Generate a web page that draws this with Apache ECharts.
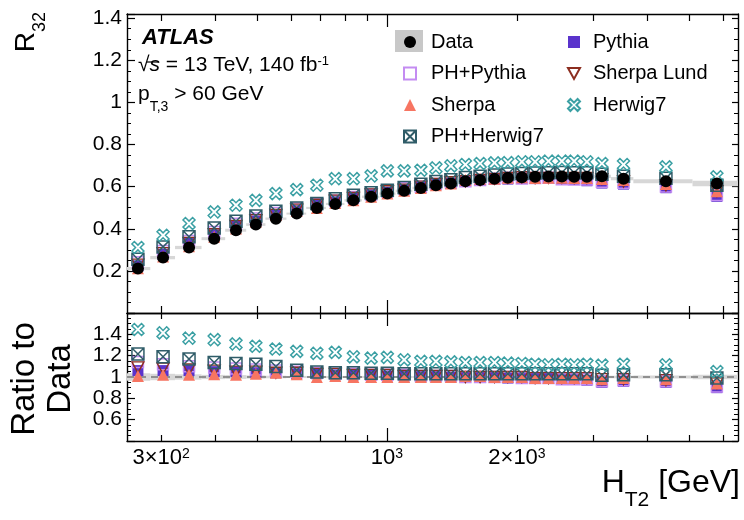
<!DOCTYPE html>
<html><head><meta charset="utf-8">
<script src="https://cdn.jsdelivr.net/npm/echarts@6/dist/echarts.min.js"></script>
<style>html,body{margin:0;padding:0;background:#fff}#c{width:744px;height:520px}</style>
</head><body><div id="c"></div>
<script>
// ---------------- data ----------------
const htCenters = [265,303,348,398,447,497,553,618,688,759,836,919,1002,1096,1198,1298,1406,1519,1643,1774,1905,2053,2203,2366,2541,2713,2904,3146,3530,4426,5808];
const binEdges = [250,283,323,372,422,472,523,585,650,722,797,875,960,1047,1145,1248,1350,1460,1580,1706,1840,1975,2130,2285,2450,2625,2805,3000,3300,3720,5100,6500];
const r32Data = [0.211,0.263,0.311,0.353,0.393,0.420,0.448,0.472,0.499,0.518,0.535,0.552,0.567,0.580,0.594,0.607,0.615,0.626,0.632,0.637,0.642,0.645,0.647,0.648,0.648,0.647,0.647,0.649,0.638,0.626,0.615];
const dataRelUnc = [0.035,0.03,0.025,0.02,0.018,0.015,0.012,0.01,0.01,0.01,0.01,0.01,0.01,0.01,0.01,0.01,0.01,0.01,0.01,0.01,0.01,0.01,0.01,0.01,0.01,0.01,0.01,0.012,0.012,0.015,0.022];

const r32Pythia = [0.224,0.279,0.330,0.371,0.413,0.437,0.466,0.486,0.514,0.528,0.546,0.563,0.573,0.586,0.600,0.613,0.615,0.626,0.632,0.637,0.636,0.639,0.641,0.642,0.635,0.634,0.628,0.617,0.612,0.595,0.554];
const r32PhPythia = [0.241,0.295,0.342,0.385,0.424,0.449,0.475,0.496,0.519,0.534,0.551,0.563,0.578,0.592,0.600,0.613,0.621,0.626,0.632,0.637,0.642,0.639,0.641,0.642,0.635,0.634,0.634,0.623,0.619,0.601,0.560];
const r32Sherpa = [0.213,0.268,0.317,0.362,0.401,0.433,0.466,0.484,0.499,0.523,0.535,0.552,0.567,0.580,0.594,0.607,0.615,0.632,0.638,0.637,0.642,0.645,0.641,0.642,0.642,0.641,0.641,0.636,0.632,0.613,0.578];
const r32SherpaLund = [0.230,0.284,0.333,0.374,0.413,0.441,0.466,0.491,0.514,0.534,0.546,0.563,0.578,0.586,0.600,0.613,0.621,0.626,0.632,0.637,0.642,0.645,0.641,0.642,0.642,0.641,0.641,0.636,0.625,0.607,0.578];
const r32PhHerwig = [0.255,0.314,0.362,0.404,0.436,0.461,0.483,0.499,0.520,0.543,0.559,0.571,0.583,0.596,0.612,0.624,0.633,0.643,0.650,0.655,0.660,0.663,0.665,0.666,0.667,0.666,0.666,0.659,0.650,0.640,0.607];
const r32Herwig = [0.311,0.369,0.425,0.480,0.512,0.535,0.567,0.586,0.607,0.638,0.638,0.651,0.675,0.675,0.678,0.689,0.699,0.705,0.710,0.713,0.714,0.718,0.718,0.721,0.721,0.721,0.718,0.710,0.705,0.694,0.647];

const ratioPythia = [1.06,1.06,1.06,1.05,1.05,1.04,1.04,1.03,1.03,1.02,1.02,1.02,1.01,1.01,1.01,1.01,1.0,1.0,1.0,1.0,0.99,0.99,0.99,0.99,0.98,0.98,0.97,0.95,0.96,0.95,0.90];
const ratioPhPythia = [1.14,1.12,1.10,1.09,1.08,1.07,1.06,1.05,1.04,1.03,1.03,1.02,1.02,1.02,1.01,1.01,1.01,1.0,1.0,1.0,1.0,0.99,0.99,0.99,0.98,0.98,0.98,0.96,0.97,0.96,0.91];
const ratioSherpa = [1.01,1.02,1.02,1.025,1.02,1.03,1.04,1.025,1.0,1.01,1.0,1.0,1.0,1.0,1.0,1.0,1.0,1.01,1.01,1.0,1.0,1.0,0.99,0.99,0.99,0.99,0.99,0.98,0.99,0.98,0.94];
const ratioSherpaLund = [1.09,1.08,1.07,1.06,1.05,1.05,1.04,1.04,1.03,1.03,1.02,1.02,1.02,1.01,1.01,1.01,1.01,1.0,1.0,1.0,1.0,1.0,0.99,0.99,0.99,0.99,0.99,0.98,0.98,0.97,0.94];
const ratioPhHerwig = [1.215,1.19,1.168,1.136,1.127,1.12,1.098,1.063,1.047,1.04,1.04,1.035,1.035,1.03,1.03,1.03,1.03,1.03,1.03,1.03,1.03,1.03,1.03,1.03,1.03,1.03,1.03,1.016,1.02,1.02,0.99];
const ratioHerwig = [1.445,1.414,1.364,1.35,1.31,1.288,1.262,1.24,1.222,1.231,1.189,1.177,1.184,1.161,1.146,1.146,1.142,1.136,1.136,1.136,1.13,1.127,1.12,1.114,1.12,1.114,1.12,1.111,1.12,1.114,1.051];

const xMinorTicks = [300,400,500,600,700,800,900,2000,3000,4000,5000,6000];
const xMajorTicks = [1000];
const xLabelValues = [300,1000,2000];
const xRange = [250,6500];
const ratioRef = 1;

// ---------------- styling ----------------
const FONT = '"Liberation Sans", Arial, Helvetica, sans-serif';
const BLACK = '#000';
const AXW = 1.4;
const C = {
  pythia: '#5a33cc', phpythia: '#c48cf2', sherpa: '#f77562', sherpalund: '#8c2e20',
  phherwig: '#2f5c68', herwig: '#3ba0a4', band: '#d7d7d7'
};
const SYM = {
  cross: 'path://M2,0L5,3L8,0L10,2L7,5L10,8L8,10L5,7L2,10L0,8L3,5L0,2Z',
  boxx: 'path://M0,0L10,0L10,10L0,10Z M0,0L10,10 M10,0L0,10',
  down: 'path://M0,0L10,0L5,9Z'
};
const NONE = 'rgba(0,0,0,0)';

function xAx(grid, pos, ticks, len, showLine, labels) {
  return {
    type: 'log', logBase: 10, gridIndex: grid, position: pos, min: xRange[0], max: xRange[1],
    axisLine: { show: showLine, onZero: false, lineStyle: { color: BLACK, width: AXW } },
    axisTick: { show: true, inside: true, length: len, customValues: ticks, lineStyle: { color: BLACK, width: 1.2 } },
    minorTick: { show: false }, splitLine: { show: false },
    axisLabel: labels ? {
      show: true, customValues: labels, margin: 6, color: BLACK,
      formatter: function (v) {
        if (Math.abs(v - 1000) < 1) return '{b|10}{s|3}';
        if (Math.abs(v - 2000) < 1) return '{b|2×10}{s|3}';
        if (Math.abs(v - 300) < 1) return '{b|3×10}{s|2}';
        return '';
      },
      rich: {
        b: { fontSize: 22, fontFamily: FONT, color: BLACK, lineHeight: 22, padding: [6, 0, 0, 0], verticalAlign: 'bottom' },
        s: { fontSize: 14, fontFamily: FONT, color: BLACK, lineHeight: 14, verticalAlign: 'top' }
      }
    } : { show: false }
  };
}
function yAx(grid, pos, min, max, showLabels) {
  return {
    type: 'value', gridIndex: grid, position: pos, min: min, max: max, interval: 0.2,
    axisLine: { show: true, onZero: false, lineStyle: { color: BLACK, width: AXW } },
    axisTick: { show: true, inside: true, length: pos === 'left' ? 8 : 6, lineStyle: { color: BLACK, width: 1.2 } },
    minorTick: { show: true, splitNumber: 4, length: 4, lineStyle: { color: BLACK, width: 1 } },
    splitLine: { show: false },
    axisLabel: { show: showLabels, showMinLabel: false, showMaxLabel: false, fontSize: 21, fontFamily: FONT, color: BLACK, margin: 5,
      formatter: v => String(+v.toFixed(2)) }
  };
}

function pts(arr) { return htCenters.map((x, i) => [x, arr[i]]); }
function sc(name, arr, xi, yi, symbol, size, itemStyle, z) {
  return { type: 'scatter', name, xAxisIndex: xi, yAxisIndex: yi, data: pts(arr), symbol, symbolSize: size,
    itemStyle: Object.assign({ opacity: 1 }, itemStyle), z, silent: true, animation: false };
}
function bandSeries(xi, yi, rows) {
  return {
    type: 'custom', coordinateSystem: 'cartesian2d', xAxisIndex: xi, yAxisIndex: yi, silent: true, z: 1,
    data: rows, encode: { x: [0, 1], y: [2, 3] },
    renderItem: function (params, api) {
      const p0 = api.coord([api.value(0), api.value(3)]);
      const p1 = api.coord([api.value(1), api.value(2)]);
      return { type: 'rect', shape: { x: p0[0], y: p0[1], width: p1[0] - p0[0], height: Math.max(p1[1] - p0[1], 1.5) },
        style: { fill: C.band } };
    }
  };
}
const topBandRows = htCenters.map((x, i) => [binEdges[i], binEdges[i + 1], r32Data[i] * (1 - dataRelUnc[i]), r32Data[i] * (1 + dataRelUnc[i])]);
const ratioBandRows = htCenters.map((x, i) => [binEdges[i], binEdges[i + 1], ratioRef - dataRelUnc[i], ratioRef + dataRelUnc[i]]);

const stPythia = { color: C.pythia };
const stPhPythia = { color: NONE, borderColor: C.phpythia, borderWidth: 1.5 };
const stSherpa = { color: C.sherpa };
const stSherpaLund = { color: NONE, borderColor: C.sherpalund, borderWidth: 1.4 };
const stPhHerwig = { color: NONE, borderColor: C.phherwig, borderWidth: 1.5 };
const stHerwig = { color: NONE, borderColor: C.herwig, borderWidth: 1.5 };

function mcSeries(xi, yi, a) {
  return [
    sc('Pythia', a[0], xi, yi, 'rect', 11, stPythia, 3),
    sc('PH+Pythia', a[1], xi, yi, 'rect', 11, stPhPythia, 3),
    sc('Sherpa Lund', a[2], xi, yi, SYM.down, [12, 11], stSherpaLund, 3),
    sc('Sherpa', a[3], xi, yi, 'triangle', 12, stSherpa, 3),
    sc('PH+Herwig7', a[4], xi, yi, SYM.boxx, 12, stPhHerwig, 3),
    sc('Herwig7', a[5], xi, yi, SYM.cross, 12, stHerwig, 3)
  ];
}

const chart = echarts.init(document.getElementById('c'), null, { renderer: 'canvas' });
function legendText(padL) { return { fontSize: 20, fontFamily: FONT, color: BLACK, lineHeight: 20, padding: [0, 0, 0, padL] }; }
const plain = (size, extra) => Object.assign({ fontSize: size, fontFamily: FONT, fill: BLACK, lineHeight: size, verticalAlign: 'top' }, extra || {});
chart.setOption({
  animation: false,
  backgroundColor: '#fff',
  textStyle: { fontFamily: FONT },
  grid: [
    { left: 127, right: 6, top: 14, height: 299, containLabel: false },
    { left: 127, right: 6, top: 313, height: 128, containLabel: false }
  ],
  xAxis: [
    xAx(0, 'bottom', xMinorTicks, 7, true, null),
    xAx(0, 'bottom', xMajorTicks, 13, false, null),
    xAx(0, 'top', xMinorTicks, 7, true, null),
    xAx(0, 'top', xMajorTicks, 13, false, null),
    xAx(1, 'bottom', xMinorTicks, 6, true, xLabelValues),
    xAx(1, 'bottom', xMajorTicks, 13, false, null),
    xAx(1, 'top', xMinorTicks, 6, true, null),
    xAx(1, 'top', xMajorTicks, 13, false, null)
  ],
  yAxis: [
    yAx(0, 'left', 0, 1.42, true),
    yAx(0, 'right', 0, 1.42, false),
    yAx(1, 'left', 0.4, 1.6, true),
    yAx(1, 'right', 0.4, 1.6, false)
  ],
  legend: [
    { data: ['Data', 'PH+Pythia', 'Sherpa', 'PH+Herwig7'], orient: 'vertical', left: 403, top: 32,
      itemWidth: 12, itemHeight: 12, itemGap: 11.5, padding: 0, textStyle: legendText(10), selectedMode: false, z: 5 },
    { data: ['Pythia', 'Sherpa Lund', 'Herwig7'], orient: 'vertical', left: 567, top: 32,
      itemWidth: 12, itemHeight: 12, itemGap: 11.5, padding: 0, textStyle: legendText(8), selectedMode: false, z: 5 }
  ],
  graphic: [
    { type: 'rect', x: 395, y: 30, shape: { width: 28, height: 22 }, style: { fill: '#c8c8c8' }, z: 0, silent: true },
    { type: 'text', x: 142, y: 38, silent: true,
      style: { text: 'ATLAS', font: 'italic bold 22px ' + FONT, fill: BLACK, textVerticalAlign: 'middle' } },
    { type: 'text', x: 138, y: 55, silent: true,
      style: { text: '{r|√}{s|s}{n| = 13 TeV, 140 fb}{p|-1}', textVerticalAlign: 'top', fill: BLACK,
        rich: {
          r: { fontSize: 21, fontFamily: FONT, fill: BLACK, lineHeight: 21, padding: [6, 0, 0, 0], verticalAlign: 'bottom' },
          s: { fontSize: 21, fontFamily: FONT, fontStyle: 'italic', fill: BLACK, lineHeight: 21, padding: [6, 0, 0, 0], verticalAlign: 'bottom' },
          n: { fontSize: 21, fontFamily: FONT, fill: BLACK, lineHeight: 21, padding: [6, 0, 0, 0], verticalAlign: 'bottom' },
          p: { fontSize: 13, fontFamily: FONT, fill: BLACK, lineHeight: 13, verticalAlign: 'top' }
        } } },
    { type: 'line', silent: true, shape: { x1: 147, y1: 62, x2: 159, y2: 62 }, style: { stroke: BLACK, lineWidth: 1.2 } },
    { type: 'text', x: 138, y: 84, silent: true,
      style: { text: '{p|p}{t|T,3}{n| > 60 GeV}', textVerticalAlign: 'top', fill: BLACK,
        rich: { p: plain(21), t: plain(14, { padding: [16, 0, 0, 0] }), n: plain(21) } } },
    { type: 'text', x: 12, y: 12, rotation: Math.PI / 2, silent: true,
      style: { text: '{r|R}{s|32}', textAlign: 'right', textVerticalAlign: 'top', fill: BLACK,
        rich: { r: plain(28), s: plain(18, { padding: [19, 0, 0, 0] }) } } },
    { type: 'text', x: 43, y: 379, rotation: Math.PI / 2, silent: true,
      style: { text: 'Ratio to\nData', textAlign: 'center', textVerticalAlign: 'middle', fill: BLACK,
        font: '33px ' + FONT, lineHeight: 36 } },
    { type: 'text', x: 740, y: 467, silent: true,
      style: { text: '{a|H}{b|T2}{a| [GeV]}', textAlign: 'right', textVerticalAlign: 'top', fill: BLACK,
        rich: { a: plain(32), b: plain(21, { padding: [23, 0, 0, 0] }) } } }
  ],
  series: [
    bandSeries(0, 0, topBandRows),
    ...mcSeries(0, 0, [r32Pythia, r32PhPythia, r32SherpaLund, r32Sherpa, r32PhHerwig, r32Herwig]),
    sc('Data', r32Data, 0, 0, 'circle', 12, { color: BLACK }, 4),
    bandSeries(4, 2, ratioBandRows),
    { type: 'line', xAxisIndex: 4, yAxisIndex: 2, data: [[xRange[0], ratioRef], [xRange[1], ratioRef]], symbol: 'none',
      lineStyle: { type: [7, 5], color: '#7a7a7a', width: 1.5 }, silent: true, z: 2, animation: false },
    ...mcSeries(4, 2, [ratioPythia, ratioPhPythia, ratioSherpaLund, ratioSherpa, ratioPhHerwig, ratioHerwig])
  ]
});
</script>
</body></html>
